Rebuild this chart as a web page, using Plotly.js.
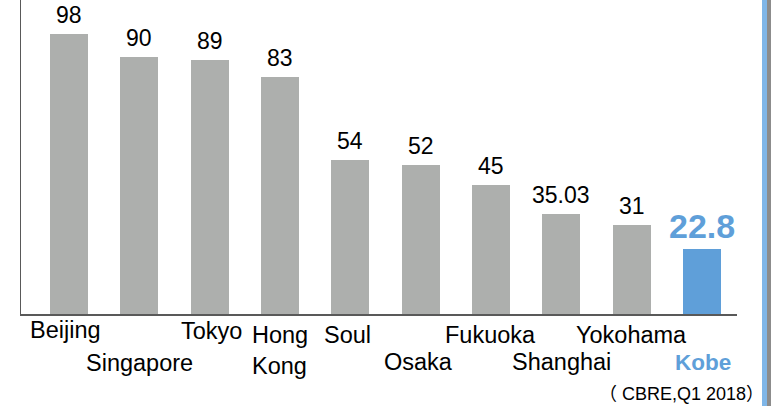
<!DOCTYPE html>
<html>
<head>
<meta charset="utf-8">
<script src="https://cdn.plot.ly/plotly-3.0.1.min.js"></script>
<style>
html,body{margin:0;padding:0;background:#fff;overflow:hidden;}
#wrap{position:relative;width:771px;height:406px;}
#chart{width:771px;height:406px;}
#stripeBlue{position:absolute;left:762px;top:0;width:5px;height:406px;background:#7fb6e8;}
#stripeGray{position:absolute;left:767px;top:0;width:4px;height:406px;background:#8c8c8c;}
</style>
</head>
<body>
<div id="wrap">
<div id="chart"></div>
<div id="stripeBlue"></div>
<div id="stripeGray"></div>
</div>
<script>
var cities = ["Beijing","Singapore","Tokyo","Hong Kong","Soul","Osaka","Fukuoka","Shanghai","Yokohama","Kobe"];
var cityLabels = ["Beijing","Singapore","Tokyo","Hong<br>Kong","Soul","Osaka","Fukuoka","Shanghai","Yokohama","Kobe"];
var values = [98, 90, 89, 83, 54, 52, 45, 35.03, 31, 22.8];
var valueLabels = ["98","90","89","83","54","52","45","35.03","31","22.8"];
var sourceNote = "（ CBRE,Q1 2018）";

var GRAY = "#adafad", BLUE = "#5f9fd9";
var FONT = "'Liberation Sans', Arial, 'Noto Sans CJK JP', sans-serif";
var last = cities.length - 1;

var colors = cities.map(function(c, i){ return i === last ? BLUE : GRAY; });

var trace = {
  type: "bar",
  x: cities,
  y: values,
  marker: {color: colors, line: {width: 0}},
  width: 0.54,
  hoverinfo: "none"
};

var annotations = [];
// value labels
values.forEach(function(v, i){
  var hl = i === last;
  annotations.push({
    x: cities[i], y: v, xref: "x", yref: "y",
    text: hl ? "<b>" + valueLabels[i] + "</b>" : valueLabels[i],
    showarrow: false, yanchor: "bottom", xanchor: "center",
    yshift: hl ? 2 : 4,
    font: {family: FONT, size: hl ? 34 : 23, color: hl ? BLUE : "#000"}
  });
});
// category labels (staggered rows)
var rowShift = [-16, -49, -17, -21, -21, -48, -21, -48, -21, -48];
var xShift = [-4, 0, 2, 0, -3, -2, 0, 0, 0, 1];
cityLabels.forEach(function(t, i){
  var hl = i === last;
  var two = t.indexOf("<br>") >= 0;
  annotations.push({
    x: cities[i], y: 0, xref: "x", yref: "paper",
    text: hl ? "<b>" + t + "</b>" : t,
    showarrow: false,
    yanchor: two ? "top" : "middle", xanchor: "center", align: two ? "left" : "center",
    yshift: two ? -6 : rowShift[i], xshift: xShift[i],
    font: {family: FONT, size: hl ? 22.5 : 23.5, color: hl ? BLUE : "#000"}
  });
});
// source note
annotations.push({
  x: 1.0405, y: -0.255, xref: "paper", yref: "paper",
  text: sourceNote, showarrow: false, xanchor: "right", yanchor: "middle",
  font: {family: FONT, size: 18, color: "#000"}
});

var layout = {
  width: 771, height: 406,
  margin: {l: 21, r: 34, t: 0, b: 92, pad: 0},
  paper_bgcolor: "#fff", plot_bgcolor: "#fff",
  showlegend: false,
  bargap: 0,
  xaxis: {
    type: "category", range: [-0.683, 9.5],
    showticklabels: false, ticks: "", showgrid: false, zeroline: false,
    showline: true, linecolor: "#595959", linewidth: 1.5, fixedrange: true
  },
  yaxis: {
    range: [0, 109.9], showticklabels: false, ticks: "", showgrid: false, zeroline: false,
    showline: true, linecolor: "#595959", linewidth: 1.5, fixedrange: true
  },
  annotations: annotations
};

Plotly.newPlot("chart", [trace], layout, {displayModeBar: false, staticPlot: true});
</script>
</body>
</html>
